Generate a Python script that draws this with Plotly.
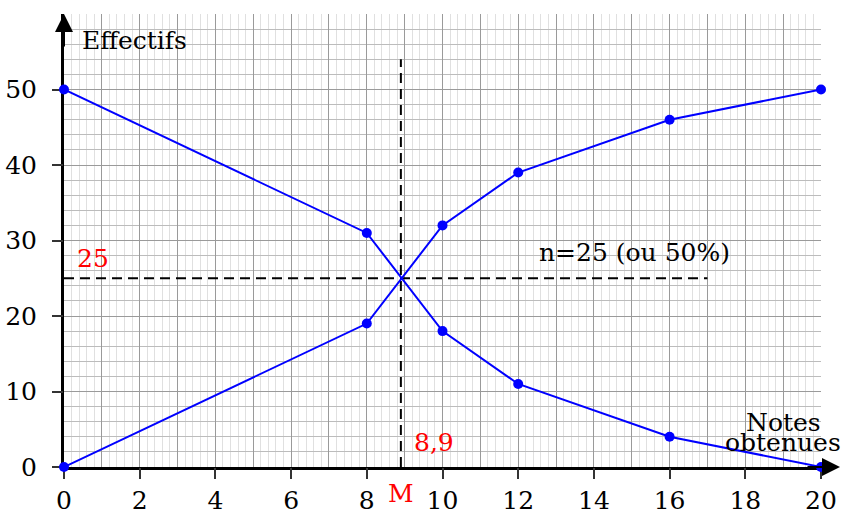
import plotly.graph_objects as go

# Data
notes = [0, 8, 10, 12, 16, 20]
eff_croissants = [0, 19, 32, 39, 46, 50]
eff_decroissants = [50, 31, 18, 11, 4, 0]
x_tick_vals = [0, 2, 4, 6, 8, 10, 12, 14, 16, 18, 20]
y_tick_vals = [0, 10, 20, 30, 40, 50]
mediane = 8.9
moitie = 25
vline_top = 54
hline_end = 17

FONT = "DejaVu Serif"
FS = 25
BLUE = "#0000ff"
RED = "#ff0000"

fig = go.Figure()

fig.add_trace(go.Scatter(x=[mediane, mediane], y=[0, vline_top], mode="lines",
                         line=dict(color="black", width=2, dash="10px,6px"),
                         hoverinfo="skip", cliponaxis=False))
fig.add_trace(go.Scatter(x=[0, hline_end], y=[moitie, moitie], mode="lines",
                         line=dict(color="black", width=2, dash="10px,6px"),
                         hoverinfo="skip", cliponaxis=False))
fig.add_trace(go.Scatter(x=notes, y=eff_croissants, mode="lines+markers",
                         line=dict(color=BLUE, width=2),
                         marker=dict(color=BLUE, size=10), cliponaxis=False))
fig.add_trace(go.Scatter(x=notes, y=eff_decroissants, mode="lines+markers",
                         line=dict(color=BLUE, width=2),
                         marker=dict(color=BLUE, size=10), cliponaxis=False))

fig.update_layout(
    width=847, height=513,
    margin=dict(l=64, r=26, t=14, b=46, autoexpand=False),
    plot_bgcolor="white", paper_bgcolor="white",
    showlegend=False,
    font=dict(family=FONT, size=FS, color="black"),
    xaxis=dict(range=[0, 20], dtick=1, tick0=0, showgrid=True, gridcolor="#9a9a9a", gridwidth=1,
               minor=dict(dtick=0.2, tick0=0, showgrid=True, gridcolor="#e0e0e0", gridwidth=1),
               showticklabels=False, ticks="", zeroline=False, automargin=False,
               showline=True, linecolor="black", linewidth=2.5, layer="below traces"),
    xaxis2=dict(range=[0, 20], overlaying="x", anchor="y", side="bottom", automargin=False,
                tickmode="array", tickvals=x_tick_vals, ticks="outside", ticklen=11,
                tickwidth=1.5, tickcolor="#333", showgrid=False, zeroline=False, showline=False,
                tickfont=dict(family=FONT, size=FS, color="black"), ticklabelstandoff=0,
                layer="below traces"),
    yaxis=dict(range=[0, 60], dtick=10, tick0=0, showgrid=True, gridcolor="#9a9a9a", gridwidth=1,
               minor=dict(dtick=2, tick0=0, showgrid=True, gridcolor="#bcbcbc", gridwidth=1),
               showticklabels=False, ticks="", zeroline=False, automargin=False,
               showline=True, linecolor="black", linewidth=2.5, layer="below traces"),
    yaxis2=dict(range=[0, 60], overlaying="y", anchor="x", side="left", automargin=False,
                tickmode="array", tickvals=y_tick_vals, ticks="outside", ticklen=11,
                tickwidth=1.5, tickcolor="#333", showgrid=False, zeroline=False, showline=False,
                tickfont=dict(family=FONT, size=FS, color="black"), ticklabelstandoff=10,
                layer="below traces"),
)

# invisible trace to activate secondary axes
fig.add_trace(go.Scatter(x=[None], y=[None], xaxis="x2", yaxis="y2", showlegend=False, hoverinfo="skip"))

PH = 513 - 14 - 46
PW = 847 - 64 - 26
ann = []
# axis arrows
ann.append(dict(xref="paper", yref="paper", x=0, y=1.0, ax=0, ay=34, text="", showarrow=True,
                arrowhead=2, arrowsize=1.8, arrowwidth=2, arrowcolor="black"))
ann.append(dict(xref="paper", yref="paper", x=1 + 19 / PW, y=0, ax=-34, ay=0, text="", showarrow=True,
                arrowhead=2, arrowsize=1.8, arrowwidth=2, arrowcolor="black"))
ann.append(dict(x=0.42, y=56.5, text="Effectifs", showarrow=False, xanchor="left", yanchor="middle",
                font=dict(family=FONT, size=FS, color="black")))
ann.append(dict(x=0.29, y=27.6, text="25", showarrow=False, xanchor="left", yanchor="middle",
                font=dict(family=FONT, size=FS, color=RED)))
ann.append(dict(x=12.5, y=28.4, text="n=25 (ou 50%)", showarrow=False, xanchor="left", yanchor="middle",
                font=dict(family=FONT, size=FS, color="black")))
ann.append(dict(x=9.19, y=3.2, text="8,9", showarrow=False, xanchor="left", yanchor="middle",
                font=dict(family=FONT, size=FS, color=RED)))
ann.append(dict(x=mediane, yref="paper", y=-26 / PH, text="M", showarrow=False,
                xanchor="center", yanchor="middle",
                font=dict(family=FONT, size=FS, color=RED)))
ann.append(dict(x=19.0, y=5.95, text="Notes", showarrow=False, xanchor="center", yanchor="middle",
                font=dict(family=FONT, size=FS, color="black")))
ann.append(dict(x=19.0, y=3.3, text="obtenues", showarrow=False, xanchor="center", yanchor="middle",
                font=dict(family=FONT, size=FS, color="black")))
fig.update_layout(annotations=ann)

fig.write_html("out.html", config={"displayModeBar": False},
               post_script="document.body.style.margin='0';document.body.style.overflow='hidden';")
